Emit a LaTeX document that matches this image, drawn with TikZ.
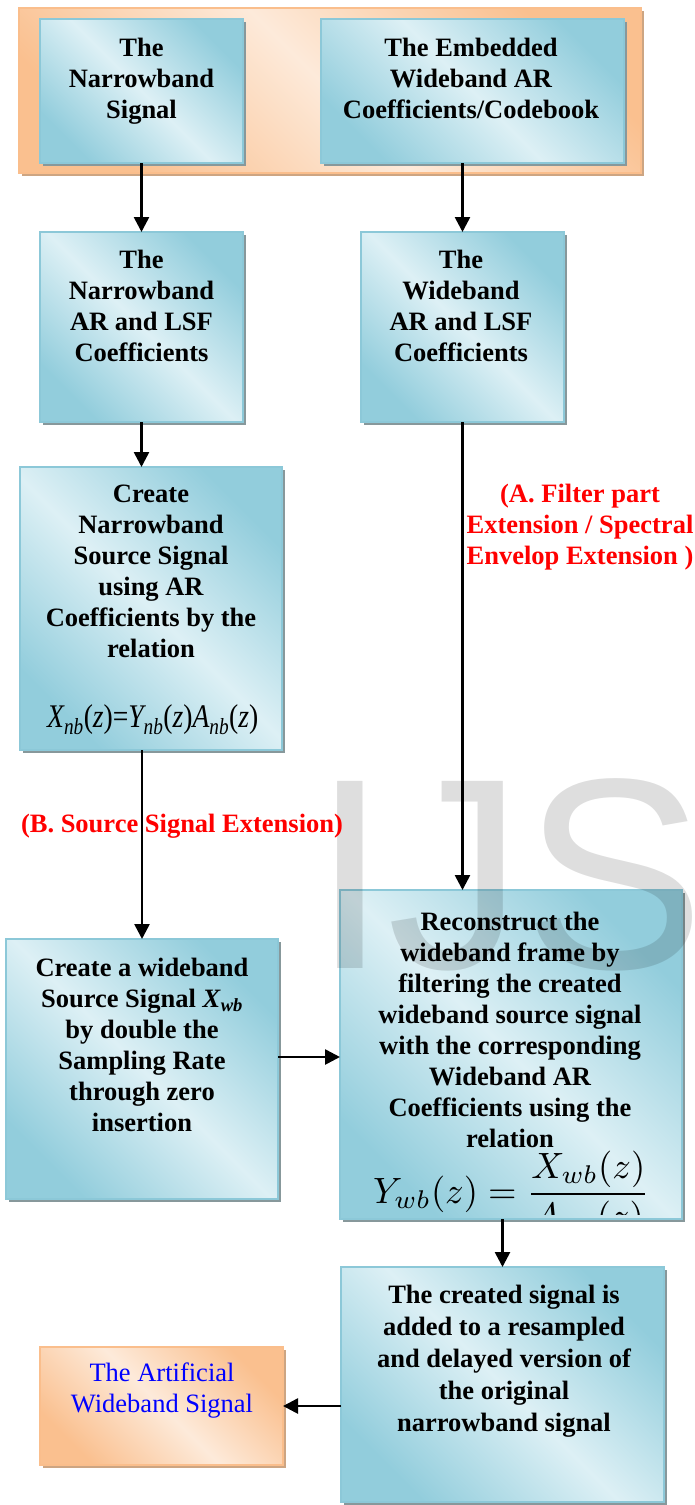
\documentclass[tikz,border=0pt]{standalone}
\usepackage{fontspec}
\setmainfont{Liberation Serif}
\newfontfamily\wmfont{Liberation Sans}
\usepackage{graphicx}
\usetikzlibrary{arrows.meta,shadows}
\definecolor{bdark}{RGB}{146,205,220}
\definecolor{blight}{RGB}{221,240,245}
\definecolor{bborder}{RGB}{140,200,216}
\definecolor{bshadow}{RGB}{135,152,155}
\definecolor{odark}{RGB}{250,192,143}
\definecolor{olight}{RGB}{253,234,218}
\definecolor{oborder}{RGB}{250,190,140}
\definecolor{oshadow}{RGB}{205,165,130}
\begin{document}
\begin{tikzpicture}[x=1pt,y=-1pt,
  box/.style={inner sep=0pt, outer sep=0pt, anchor=north west, line width=1.5pt},
  bluebox/.style={box, draw=bborder, left color=bdark, right color=bdark, middle color=blight, shading angle=135,
    drop shadow={shadow xshift=3pt, shadow yshift=-3pt, fill=bshadow, opacity=1}},
  orangebox/.style={box, draw=oborder, left color=odark, right color=odark, middle color=olight, shading angle=135,
    drop shadow={shadow xshift=3pt, shadow yshift=-3pt, fill=oshadow, opacity=1}},
  txt/.style={anchor=north, inner sep=0pt, align=center, font=\fontsize{26.5}{31}\selectfont\bfseries},
  redlbl/.style={txt, text=red},
  arr/.style={line width=2.6pt, -{Triangle[length=15pt,width=15pt]}},
]
\useasboundingbox (0,0) rectangle (694,1505);
% boxes
\node[orangebox, minimum width=622pt, minimum height=165pt] (top) at (19,8) {};
\node[bluebox, minimum width=203pt, minimum height=144pt] (A) at (40,19) {};
\node[bluebox, minimum width=303pt, minimum height=144pt] (B) at (321,19) {};
\node[bluebox, minimum width=203pt, minimum height=190pt] (C) at (40,232) {};
\node[bluebox, minimum width=203pt, minimum height=190pt] (D) at (361,232) {};
\node[bluebox, minimum width=262pt, minimum height=283pt] (E) at (20,467) {};
\node[bluebox, minimum width=272pt, minimum height=260pt] (F) at (6,939) {};
\node[bluebox, minimum width=342pt, minimum height=329pt] (G) at (340,890) {};
\node[bluebox, minimum width=323pt, minimum height=235pt] (H) at (341,1267) {};
\node[orangebox, minimum width=243pt, minimum height=118pt] (I) at (40,1347) {};
% clipped formula in G
\begin{scope}
  \clip ([xshift=1pt,yshift=5pt]G.south west) rectangle ([xshift=-1pt]G.north east);
  \node[anchor=base west, inner sep=0pt] (fg) at (373,1203)
    {\scalebox{3.66}{$\displaystyle Y_{wb}(z)=\frac{X_{wb}(z)}{A_{wb}(z)}$}};
\end{scope}
% watermark
\begin{scope}
  \clip (0,0) rectangle (694,1505);
  \node[anchor=base west, inner sep=0pt, text=black, text opacity=0.13,
        font=\wmfont\fontsize{272}{272}\selectfont] (wm) at (312,968) {IJSER};
\end{scope}
% texts
\node[txt] (tA) at (141.5,38) {The\\Narrowband\\Signal};
\node[txt] (tB) at (471,38) {The Embedded\\Wideband AR\\Coefficients/Codebook};
\node[txt] (tC) at (141.5,250) {The\\Narrowband\\AR and LSF\\Coefficients};
\node[txt] (tD) at (461,250) {The\\Wideband\\AR and LSF\\Coefficients};
\node[txt] (tE) at (151,485) {Create\\Narrowband\\Source Signal\\using AR\\Coefficients by the\\relation};
\node[anchor=base west, inner sep=0pt] (fe) at (47,727)
  {\resizebox{211pt}{\height}{\fontsize{33}{33}\selectfont\itshape X\textsubscript{nb}\upshape(\itshape z\upshape)=\itshape Y\textsubscript{nb}\upshape(\itshape z\upshape)\itshape A\textsubscript{nb}\upshape(\itshape z\upshape)}};
\node[txt] (tF) at (142,958) {Create a wideband\\Source Signal \textit{X}\textsubscript{\textit{wb}}\\by double the\\Sampling Rate\\through zero\\insertion};
\node[txt] (tG) at (510,912) {Reconstruct the\\wideband frame by\\filtering the created\\wideband source signal\\with the corresponding\\Wideband AR\\Coefficients using the\\relation};
\node[txt, font=\fontsize{26.5}{32}\selectfont\bfseries] (tH) at (504,1285) {The created signal is\\added to a resampled\\and delayed version of\\the original\\narrowband signal};
\node[txt, font=\fontsize{26.5}{31}\selectfont, text=blue] (tI) at (162,1363) {The Artificial\\Wideband Signal};
% red labels
\node[redlbl] (la) at (580,484) {(A. Filter part\\Extension / Spectral\\Envelop Extension )};
\node[redlbl] (lb) at (182,814) {(B. Source Signal Extension)};
% arrows
\draw[arr] (A.south) -- (C.north);
\draw[arr] (D.north |- B.south) -- (D.north);
\draw[arr] (C.south) -- (C.south |- E.north);
\draw[arr] (F.north |- E.south) -- (F.north);
\draw[arr] (D.south) -- (D.south |- G.north);
\draw[arr] ([yshift=12pt]F.east) -- ([yshift=12pt]F.east -| G.west);
\draw[arr] (H.north |- G.south) -- (H.north);
\draw[arr] (I.east -| H.west) -- (I.east);
\end{tikzpicture}
\end{document}
